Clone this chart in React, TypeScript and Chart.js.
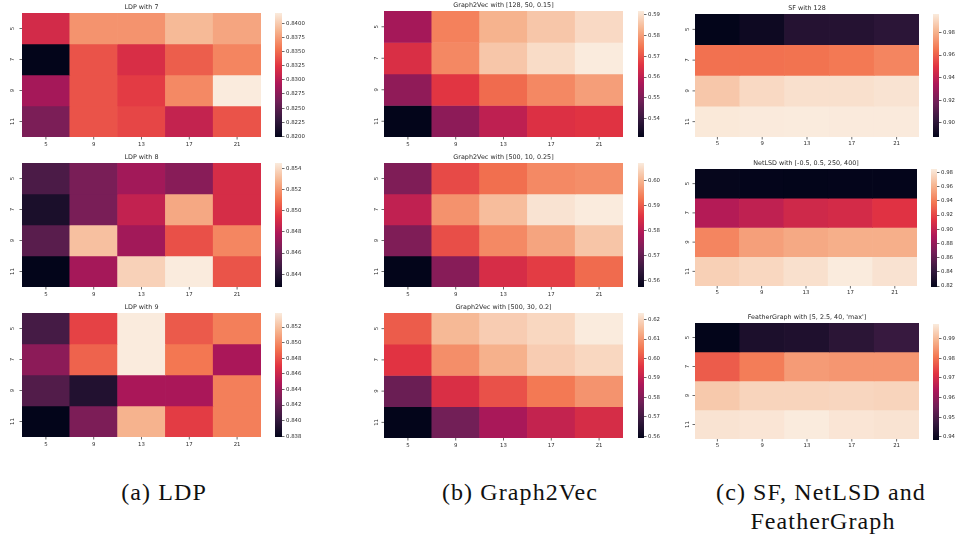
import React, { useEffect, useRef } from 'react';
import { Chart, registerables } from 'chart.js';

Chart.register(...registerables);

// ---------- data ----------
const X_CATS = ['5', '9', '13', '17', '21'];
const Y_CATS = ['5', '7', '9', '11'];

const LDP_7 = [
  [0.8315, 0.8370, 0.8370, 0.8390, 0.8379],
  [0.8199, 0.8339, 0.8319, 0.8344, 0.8363],
  [0.8289, 0.8339, 0.8328, 0.8365, 0.8418],
  [0.8267, 0.8339, 0.8333, 0.8306, 0.8339],
];
const LDP_8 = [
  [0.8451, 0.8464, 0.8475, 0.8468, 0.8491],
  [0.8436, 0.8464, 0.8485, 0.8525, 0.8491],
  [0.8455, 0.8532, 0.8475, 0.8502, 0.8516],
  [0.8428, 0.8476, 0.8537, 0.8545, 0.8503],
];
const LDP_9 = [
  [0.8408, 0.8475, 0.8538, 0.8483, 0.8496],
  [0.8435, 0.8486, 0.8538, 0.8493, 0.8446],
  [0.8413, 0.8393, 0.8446, 0.8446, 0.8496],
  [0.8379, 0.8429, 0.8515, 0.8473, 0.8496],
];
const G2V_128_50 = [
  [0.556, 0.576, 0.583, 0.586, 0.589],
  [0.5645, 0.577, 0.586, 0.5894, 0.5918],
  [0.553, 0.566, 0.573, 0.577, 0.580],
  [0.5311, 0.5525, 0.560, 0.565, 0.5657],
];
const G2V_500_10 = [
  [0.5733, 0.5881, 0.592, 0.595, 0.5955],
  [0.5812, 0.596, 0.601, 0.6059, 0.6069],
  [0.5733, 0.5886, 0.595, 0.598, 0.602],
  [0.5575, 0.5743, 0.5842, 0.5867, 0.5916],
];
const G2V_500_30 = [
  [0.6015, 0.615, 0.6183, 0.620, 0.6234],
  [0.5958, 0.6086, 0.6138, 0.6183, 0.620],
  [0.5765, 0.5945, 0.600, 0.6054, 0.6093],
  [0.5591, 0.5777, 0.586, 0.5906, 0.5938],
];
const SF_128 = [
  [0.8876, 0.891, 0.898, 0.898, 0.900],
  [0.964, 0.964, 0.9645, 0.966, 0.969],
  [0.986, 0.991, 0.993, 0.993, 0.994],
  [0.9955, 0.996, 0.9962, 0.996, 0.996],
];
const NETLSD = [
  [0.820, 0.819, 0.8186, 0.819, 0.819],
  [0.893, 0.898, 0.905, 0.907, 0.913],
  [0.943, 0.953, 0.957, 0.959, 0.959],
  [0.973, 0.976, 0.980, 0.9848, 0.981],
];
const FEATHER = [
  [0.9383, 0.9425, 0.943, 0.945, 0.947],
  [0.9774, 0.9816, 0.9857, 0.985, 0.985],
  [0.9923, 0.994, 0.994, 0.9943, 0.994],
  [0.9964, 0.9967, 0.9976, 0.9967, 0.9964],
];

const TITLES = [
  'LDP with 7',
  'LDP with 8',
  'LDP with 9',
  'Graph2Vec with [128, 50, 0.15]',
  'Graph2Vec with [500, 10, 0.25]',
  'Graph2Vec with [500, 30, 0.2]',
  'SF with 128',
  'NetLSD with [-0.5, 0.5, 250, 400]',
  "FeatherGraph with [5, 2.5, 40, 'max']",
];
const CB_STEPS = [0.0025, 0.002, 0.002, 0.01, 0.01, 0.01, 0.02, 0.02, 0.01];
const CB_DECIMALS = [4, 3, 3, 2, 2, 2, 2, 2, 2];
const CAPTIONS = ['(a) LDP', '(b) Graph2Vec', '(c) SF, NetLSD and', 'FeatherGraph'];

// ---------- styling ----------
const TEXT = '#2a2a2a';
const FONT = '"DejaVu Sans", sans-serif';
const TITLE_SIZE = 6.4;
const TICK_SIZE = 5.4;

const ROCKET: number[][] = [
  [0, 3, 5, 26],
  [1 / 7, 53, 25, 62],
  [2 / 7, 112, 31, 87],
  [3 / 7, 173, 23, 89],
  [4 / 7, 225, 51, 66],
  [5 / 7, 243, 118, 81],
  [6 / 7, 246, 180, 143],
  [1, 250, 235, 221],
];

function rocket(t: number): string {
  const v = Math.max(0, Math.min(1, t));
  for (let k = 1; k < ROCKET.length; k++) {
    if (v <= ROCKET[k][0]) {
      const a = ROCKET[k - 1];
      const b = ROCKET[k];
      const f = (v - a[0]) / (b[0] - a[0]);
      const c = [1, 2, 3].map((i) => Math.round(a[i] + (b[i] - a[i]) * f));
      return `rgb(${c[0]},${c[1]},${c[2]})`;
    }
  }
  const e = ROCKET[ROCKET.length - 1];
  return `rgb(${e[1]},${e[2]},${e[3]})`;
}

type Spec = {
  title: string;
  values: number[][];
  plot: number[]; // l, t, r, b
  cb: number[]; // l, t, r, b
  step: number;
  decimals: number;
  axisW: number;
  yOff: number;
  xOff: number;
};

const VALUES = [LDP_7, LDP_8, LDP_9, G2V_128_50, G2V_500_10, G2V_500_30, SF_128, NETLSD, FEATHER];
const PLOTS = [
  [22, 13, 261, 137], [22, 163, 261, 287], [22, 313, 261, 437],
  [384, 11, 623, 137], [384, 163, 623, 287], [384, 313, 623, 438],
  [695, 14, 919, 137], [695, 169, 917, 286], [695, 323, 919, 439],
];
const CBS = [
  [275, 13, 282, 137], [275, 163, 282, 287], [275, 313, 282, 437],
  [638, 11, 644, 137], [638, 163, 644, 287], [638, 313, 644, 438],
  [933, 14, 939, 137], [931, 169, 937, 287], [933, 324, 939, 440],
];

const SPECS: Spec[] = VALUES.map((values, k) => {
  const col = Math.floor(k / 3);
  return {
    title: TITLES[k],
    values,
    plot: PLOTS[k],
    cb: CBS[k],
    step: CB_STEPS[k],
    decimals: CB_DECIMALS[k],
    axisW: col === 0 ? 26 : 24,
    yOff: col === 0 ? 9.5 : 7.5,
    xOff: col === 2 ? 6.5 : 7.5,
  };
});

const PAD = { left: 22, top: 14, right: 4, bottom: 14 };
const CB_PAD = 6;

function labelPlugin(spec: Spec) {
  return {
    id: 'heatLabels',
    afterDraw(chart: any) {
      const { ctx, chartArea: a, scales } = chart;
      ctx.save();
      ctx.fillStyle = TEXT;
      ctx.strokeStyle = TEXT;
      ctx.lineWidth = 0.7;
      ctx.textAlign = 'center';
      ctx.textBaseline = 'middle';
      ctx.font = `${TITLE_SIZE}px ${FONT}`;
      ctx.fillText(spec.title, (a.left + a.right) / 2, a.top - 5.5);
      ctx.font = `${TICK_SIZE}px ${FONT}`;
      X_CATS.forEach((c, j) => {
        const x = scales.x.getPixelForValue(j);
        ctx.beginPath();
        ctx.moveTo(x, a.bottom);
        ctx.lineTo(x, a.bottom + 2.5);
        ctx.stroke();
        ctx.fillText(c, x, a.bottom + spec.xOff);
      });
      Y_CATS.forEach((c, i) => {
        const y = scales.y.getPixelForValue(i);
        ctx.beginPath();
        ctx.moveTo(a.left - 2.5, y);
        ctx.lineTo(a.left, y);
        ctx.stroke();
        ctx.save();
        ctx.translate(a.left - spec.yOff, y);
        ctx.rotate(-Math.PI / 2);
        ctx.fillText(c, 0, 0);
        ctx.restore();
      });
      ctx.restore();
    },
  };
}

function Panel({ spec }: { spec: Spec }) {
  const ref = useRef<HTMLCanvasElement>(null);
  const cbRef = useRef<HTMLCanvasElement>(null);
  const [l, t, r, b] = spec.plot;
  const cw = r - l + PAD.left + PAD.right;
  const ch = b - t + PAD.top + PAD.bottom;
  const [cl, ct, cr, cbb] = spec.cb;
  const bw = cr - cl + spec.axisW;
  const bh = cbb - ct + CB_PAD * 2;

  useEffect(() => {
    const flat = spec.values.flat();
    const vmin = Math.min(...flat);
    const vmax = Math.max(...flat);
    const heat = new Chart(ref.current as HTMLCanvasElement, {
      type: 'bar',
      data: {
        labels: X_CATS,
        datasets: Y_CATS.map((yc, i) => ({
          label: yc,
          data: X_CATS.map(() => [i - 0.5, i + 0.5]),
          backgroundColor: spec.values[i].map((v) => rocket((v - vmin) / (vmax - vmin))),
          borderWidth: 0,
          grouped: false,
          categoryPercentage: 1,
          barPercentage: 1,
        })) as any,
      },
      options: {
        responsive: false,
        animation: false,
        layout: { padding: PAD },
        plugins: { legend: { display: false }, tooltip: { enabled: false } },
        scales: {
          x: { display: false },
          y: { display: false, min: -0.5, max: 3.5, reverse: true },
        },
      },
      plugins: [labelPlugin(spec)],
    });

    const bar = new Chart(cbRef.current as HTMLCanvasElement, {
      type: 'bar',
      data: {
        labels: [''],
        datasets: [
          {
            data: [[vmin, vmax]] as any,
            backgroundColor: (c: any) => {
              const a = c.chart.chartArea;
              if (!a) return '#000';
              const g = c.chart.ctx.createLinearGradient(0, a.bottom, 0, a.top);
              ROCKET.forEach((s) => g.addColorStop(s[0], `rgb(${s[1]},${s[2]},${s[3]})`));
              return g;
            },
            borderWidth: 0,
            categoryPercentage: 1,
            barPercentage: 1,
          },
        ],
      },
      options: {
        responsive: false,
        animation: false,
        layout: { padding: { top: CB_PAD, bottom: CB_PAD, left: 0, right: 0 } },
        plugins: { legend: { display: false }, tooltip: { enabled: false } },
        scales: {
          x: { display: false },
          y: {
            position: 'right',
            min: vmin,
            max: vmax,
            border: { display: false },
            grid: { drawOnChartArea: false, drawTicks: true, tickLength: 2.5, color: TEXT, lineWidth: 0.7 },
            ticks: {
              stepSize: spec.step,
              includeBounds: false,
              color: TEXT,
              padding: 1.5,
              font: { family: 'DejaVu Sans', size: TICK_SIZE },
              callback: (v: any) => Number(v).toFixed(spec.decimals),
            },
            afterFit: (s: any) => {
              s.width = spec.axisW;
            },
          } as any,
        },
      },
    });

    return () => {
      heat.destroy();
      bar.destroy();
    };
  }, []);

  return (
    <>
      <canvas
        ref={ref}
        width={cw}
        height={ch}
        style={{ position: 'absolute', left: l - PAD.left, top: t - PAD.top, width: cw, height: ch }}
      />
      <canvas
        ref={cbRef}
        width={bw}
        height={bh}
        style={{ position: 'absolute', left: cl, top: ct - CB_PAD, width: bw, height: bh }}
      />
    </>
  );
}

const captionStyle: React.CSSProperties = {
  position: 'absolute',
  transform: 'translateX(-50%)',
  whiteSpace: 'nowrap',
  fontFamily: '"Liberation Serif", "Times New Roman", serif',
  fontSize: 24,
  letterSpacing: 1.1,
  lineHeight: '29px',
  color: '#111',
};

export default function App() {
  return (
    <div
      style={{
        position: 'fixed',
        left: 0,
        top: 0,
        width: 956,
        height: 536,
        background: '#ffffff',
        overflow: 'hidden',
      }}
    >
      {SPECS.map((s, k) => (
        <Panel key={k} spec={s} />
      ))}
      <div style={{ ...captionStyle, left: 164, top: 478 }}>{CAPTIONS[0]}</div>
      <div style={{ ...captionStyle, left: 520, top: 478 }}>{CAPTIONS[1]}</div>
      <div style={{ ...captionStyle, left: 821, top: 478 }}>{CAPTIONS[2]}</div>
      <div style={{ ...captionStyle, left: 823, top: 507 }}>{CAPTIONS[3]}</div>
    </div>
  );
}
